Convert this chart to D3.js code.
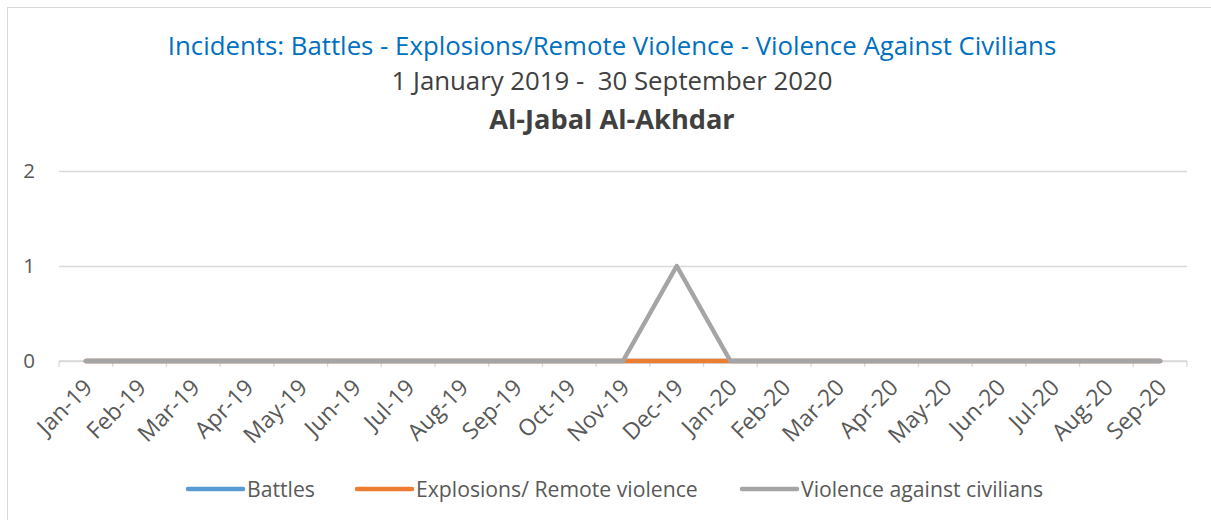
<!DOCTYPE html>
<html>
<head>
<meta charset="utf-8">
<script src="https://cdn.jsdelivr.net/npm/d3@7"></script>
<style>
  body { margin: 0; background: #fff; }
  svg { display: block; font-family: "Open Sans", sans-serif; }
</style>
</head>
<body>
<div id="chart"></div>
<script>
const months = ['Jan-19', 'Feb-19', 'Mar-19', 'Apr-19', 'May-19', 'Jun-19', 'Jul-19', 'Aug-19',
  'Sep-19', 'Oct-19', 'Nov-19', 'Dec-19', 'Jan-20', 'Feb-20', 'Mar-20', 'Apr-20', 'May-20',
  'Jun-20', 'Jul-20', 'Aug-20', 'Sep-20'];
const battles = [0, 0, 0, 0, 0, 0, 0, 0, 0, 0, 0, 0, 0, 0, 0, 0, 0, 0, 0, 0, 0];
const explosions = [0, 0, 0, 0, 0, 0, 0, 0, 0, 0, 0, 0, 0, 0, 0, 0, 0, 0, 0, 0, 0];
const civilians = [0, 0, 0, 0, 0, 0, 0, 0, 0, 0, 0, 1, 0, 0, 0, 0, 0, 0, 0, 0, 0];
const seriesNames = ['Battles', 'Explosions/ Remote violence', 'Violence against civilians'];
const yTicks = [0, 1, 2];
const titleLines = [
  'Incidents: Battles - Explosions/Remote Violence - Violence Against Civilians',
  '1 January 2019 -  30 September 2020',
  'Al-Jabal Al-Akhdar'
];

const W = 1211, H = 520;
const colors = ['#5B9BD5', '#ED7D31', '#A5A5A5'];
const textColor = '#595959';
const plot = {left: 59, right: 1187, top: 171, bottom: 361};

const svg = d3.select('#chart').append('svg')
  .attr('width', W)
  .attr('height', H);

// chart border
svg.append('rect')
  .attr('x', 7.5).attr('y', 7.5)
  .attr('width', W - 7).attr('height', H)
  .attr('fill', '#fff')
  .attr('stroke', '#D9D9D9');

// titles
svg.append('text')
  .attr('x', 612).attr('y', 55)
  .attr('text-anchor', 'middle')
  .attr('font-size', 25.8)
  .attr('fill', '#0070C0')
  .text(titleLines[0]);
svg.append('text')
  .attr('x', 612).attr('y', 90)
  .attr('text-anchor', 'middle')
  .attr('font-size', 25.8)
  .attr('fill', '#404040')
  .style('white-space', 'pre')
  .text(titleLines[1]);
svg.append('text')
  .attr('x', 612).attr('y', 129)
  .attr('text-anchor', 'middle')
  .attr('font-size', 27.2)
  .attr('font-weight', 'bold')
  .attr('fill', '#404040')
  .text(titleLines[2]);

const x = d3.scaleBand()
  .domain(months)
  .range([plot.left, plot.right]);

const y = d3.scaleLinear()
  .domain([0, 2])
  .range([plot.bottom, plot.top]);

// y grid + labels
const yAxis = svg.append('g')
  .attr('transform', `translate(${plot.left},0)`)
  .call(d3.axisLeft(y).tickValues(yTicks).tickSize(-(plot.right - plot.left)).tickPadding(24).tickFormat(d3.format('d')));
yAxis.select('.domain').remove();
yAxis.selectAll('line').attr('stroke', '#D9D9D9').attr('stroke-width', 1.3);
yAxis.selectAll('text').attr('fill', textColor).attr('font-size', 20.5).attr('font-family', '"Open Sans", sans-serif');

// x axis with ticks at category boundaries
const xAxis = svg.append('g')
  .attr('transform', `translate(0,${plot.bottom})`);
xAxis.append('line')
  .attr('x1', plot.left).attr('x2', plot.right)
  .attr('stroke', '#D9D9D9').attr('stroke-width', 1.3);
xAxis.selectAll('.bound')
  .data(months.concat(['end']))
  .join('line')
  .attr('class', 'bound')
  .attr('x1', (d, i) => plot.left + i * x.step())
  .attr('x2', (d, i) => plot.left + i * x.step())
  .attr('y1', 0).attr('y2', 6)
  .attr('stroke', '#D9D9D9').attr('stroke-width', 1.3);
xAxis.selectAll('.lbl')
  .data(months)
  .join('text')
  .attr('class', 'lbl')
  .attr('transform', (d) => `translate(${x(d) + x.bandwidth() / 2 + 8},${28}) rotate(-45)`)
  .attr('text-anchor', 'end')
  .attr('font-size', 23)
  .attr('fill', textColor)
  .text((d) => d);

// series lines
const line = d3.line()
  .x((d, i) => x(months[i]) + x.bandwidth() / 2)
  .y((d) => y(d));

[battles, explosions, civilians].forEach((values, k) => {
  svg.append('path')
    .datum(values)
    .attr('d', line)
    .attr('fill', 'none')
    .attr('stroke', colors[k])
    .attr('stroke-width', 4.5)
    .attr('stroke-linejoin', 'round')
    .attr('stroke-linecap', 'round');
});

// legend
const legendX = [188, 357, 742];
const legend = svg.append('g').attr('transform', 'translate(0,489)');
seriesNames.forEach((name, k) => {
  legend.append('line')
    .attr('x1', legendX[k]).attr('x2', legendX[k] + 55)
    .attr('stroke', colors[k])
    .attr('stroke-width', 4.5)
    .attr('stroke-linecap', 'round');
  legend.append('text')
    .attr('x', legendX[k] + 59)
    .attr('y', 7.5)
    .attr('font-size', 21.2)
    .attr('fill', textColor)
    .text(name);
});
</script>
</body>
</html>
